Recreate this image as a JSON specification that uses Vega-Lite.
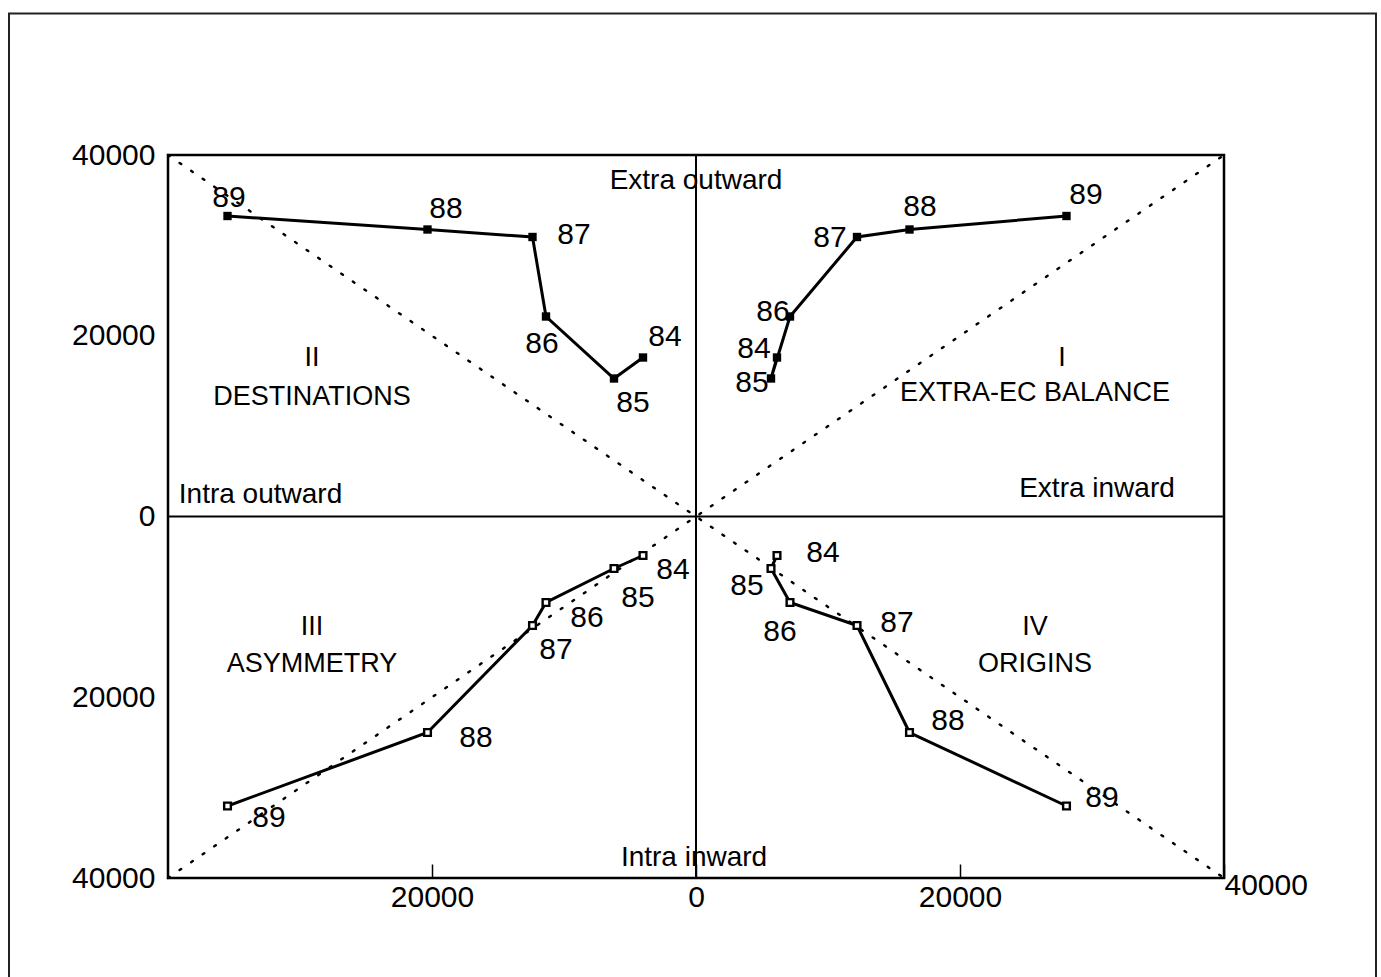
{
  "$schema": "https://vega.github.io/schema/vega-lite/v6.json",
  "width": 1056,
  "height": 723,
  "autosize": {"type": "none"},
  "padding": {"left": 168, "top": 155, "right": 157, "bottom": 99},
  "background": "white",
  "config": {
    "view": {"stroke": "black", "strokeWidth": 2.5},
    "font": "Liberation Sans",
    "text": {"font": "Liberation Sans", "color": "black"}
  },
  "datasets": {
    "points": [
      {"quadrant": "I", "year": "84", "x": 6136, "y": 17593},
      {"quadrant": "I", "year": "85", "x": 5682, "y": 15270},
      {"quadrant": "I", "year": "86", "x": 7121, "y": 22130},
      {"quadrant": "I", "year": "87", "x": 12197, "y": 30927},
      {"quadrant": "I", "year": "88", "x": 16174, "y": 31757},
      {"quadrant": "I", "year": "89", "x": 28068, "y": 33250},
      {"quadrant": "II", "year": "84", "x": -4015, "y": 17593},
      {"quadrant": "II", "year": "85", "x": -6212, "y": 15270},
      {"quadrant": "II", "year": "86", "x": -11364, "y": 22130},
      {"quadrant": "II", "year": "87", "x": -12386, "y": 30927},
      {"quadrant": "II", "year": "88", "x": -20341, "y": 31757},
      {"quadrant": "II", "year": "89", "x": -35492, "y": 33250},
      {"quadrant": "III", "year": "84", "x": -4015, "y": -4315},
      {"quadrant": "III", "year": "85", "x": -6212, "y": -5754},
      {"quadrant": "III", "year": "86", "x": -11364, "y": -9516},
      {"quadrant": "III", "year": "87", "x": -12386, "y": -12061},
      {"quadrant": "III", "year": "88", "x": -20341, "y": -23900},
      {"quadrant": "III", "year": "89", "x": -35492, "y": -32033},
      {"quadrant": "IV", "year": "84", "x": 6136, "y": -4315},
      {"quadrant": "IV", "year": "85", "x": 5682, "y": -5754},
      {"quadrant": "IV", "year": "86", "x": 7121, "y": -9516},
      {"quadrant": "IV", "year": "87", "x": 12197, "y": -12061},
      {"quadrant": "IV", "year": "88", "x": 16174, "y": -23900},
      {"quadrant": "IV", "year": "89", "x": 28068, "y": -32033}
    ],
    "yearLabels": [
      {"quadrant": "I", "year": "84", "x": 4394, "y": 18479},
      {"quadrant": "I", "year": "85", "x": 4242, "y": 14827},
      {"quadrant": "I", "year": "86", "x": 5833, "y": 22573},
      {"quadrant": "I", "year": "87", "x": 10152, "y": 30871},
      {"quadrant": "I", "year": "88", "x": 16970, "y": 34191},
      {"quadrant": "I", "year": "89", "x": 29545, "y": 35519},
      {"quadrant": "II", "year": "84", "x": -2348, "y": 19917},
      {"quadrant": "II", "year": "85", "x": -4773, "y": 12614},
      {"quadrant": "II", "year": "86", "x": -11667, "y": 19142},
      {"quadrant": "II", "year": "87", "x": -9242, "y": 31203},
      {"quadrant": "II", "year": "88", "x": -18939, "y": 34080},
      {"quadrant": "II", "year": "89", "x": -35379, "y": 35297},
      {"quadrant": "III", "year": "84", "x": -1742, "y": -5975},
      {"quadrant": "III", "year": "85", "x": -4394, "y": -8963},
      {"quadrant": "III", "year": "86", "x": -8258, "y": -11176},
      {"quadrant": "III", "year": "87", "x": -10606, "y": -14827},
      {"quadrant": "III", "year": "88", "x": -16667, "y": -24564},
      {"quadrant": "III", "year": "89", "x": -32348, "y": -33416},
      {"quadrant": "IV", "year": "84", "x": 9621, "y": -4094},
      {"quadrant": "IV", "year": "85", "x": 3864, "y": -7635},
      {"quadrant": "IV", "year": "86", "x": 6364, "y": -12725},
      {"quadrant": "IV", "year": "87", "x": 15227, "y": -11729},
      {"quadrant": "IV", "year": "88", "x": 19091, "y": -22573},
      {"quadrant": "IV", "year": "89", "x": 30758, "y": -31093}
    ],
    "axisNotes": [
      {"text": "Extra outward", "x": 0, "y": 37178},
      {"text": "Intra outward", "x": -32992, "y": 2434},
      {"text": "Extra inward", "x": 30379, "y": 3098},
      {"text": "Intra inward", "x": -150, "y": -37732}
    ],
    "quadrantNames": [
      {"text": "II", "x": -29091, "y": 17593},
      {"text": "DESTINATIONS", "x": -29091, "y": 13278},
      {"text": "I", "x": 27727, "y": 17593},
      {"text": "EXTRA-EC BALANCE", "x": 25682, "y": 13610},
      {"text": "III", "x": -29091, "y": -12282},
      {"text": "ASYMMETRY", "x": -29091, "y": -16266},
      {"text": "IV", "x": 25682, "y": -12282},
      {"text": "ORIGINS", "x": 25682, "y": -16266}
    ],
    "diagonals": [
      {"diag": "falling", "x": -40000, "y": 40000},
      {"diag": "falling", "x": 40000, "y": -40000},
      {"diag": "rising", "x": -40000, "y": -40000},
      {"diag": "rising", "x": 40000, "y": 40000}
    ]
  },
  "layer": [
    {
      "data": {"values": [{}]},
      "mark": {"type": "rect", "fillOpacity": 0, "stroke": "#222222", "strokeWidth": 2, "clip": false},
      "encoding": {
        "x": {"datum": -52045, "type": "quantitative", "scale": {"domain": [-40000, 40000], "nice": false, "zero": false}},
        "x2": {"datum": 51515},
        "y": {"datum": 55657, "type": "quantitative", "scale": {"domain": [-40000, 40000], "nice": false, "zero": false}},
        "y2": {"datum": -53500}
      }
    },
    {
      "data": {"name": "diagonals"},
      "mark": {"type": "line", "color": "black", "strokeWidth": 2.4, "strokeDash": [2, 12], "strokeCap": "round"},
      "encoding": {
        "x": {"field": "x", "type": "quantitative", "scale": {"domain": [-40000, 40000], "nice": false, "zero": false},
          "axis": {
            "values": [-20000, 0, 20000, 40000],
            "labelExpr": "format(abs(datum.value), 'd')",
            "title": null,
            "grid": false,
            "domain": false,
            "ticks": true,
            "tickSize": -14,
            "tickWidth": 1.5,
            "tickColor": "black",
            "labelFont": "Liberation Sans",
            "labelFontSize": 30,
            "labelColor": "black",
            "labelBaseline": "top",
            "labelAlign": {"condition": {"test": "datum.value == 40000", "value": "left"}, "value": "center"},
            "labelPadding": {"condition": {"test": "datum.value == 40000", "value": 6}, "value": 18},
            "labelFlush": false,
            "labelOverlap": false
          }},
        "y": {"field": "y", "type": "quantitative", "scale": {"domain": [-40000, 40000], "nice": false, "zero": false},
          "axis": {
            "values": [-40000, -20000, 0, 20000, 40000],
            "labelExpr": "format(abs(datum.value), 'd')",
            "title": null,
            "grid": false,
            "domain": false,
            "ticks": false,
            "labelFont": "Liberation Sans",
            "labelFontSize": 30,
            "labelColor": "black",
            "labelPadding": 13,
            "labelFlush": false,
            "labelOverlap": false
          }},
        "detail": {"field": "diag"}
      }
    },
    {
      "data": {"values": [{}]},
      "mark": {"type": "rule", "color": "black", "strokeWidth": 2},
      "encoding": {"x": {"datum": 0, "type": "quantitative", "scale": {"domain": [-40000, 40000], "nice": false, "zero": false}}}
    },
    {
      "data": {"values": [{}]},
      "mark": {"type": "rule", "color": "black", "strokeWidth": 2},
      "encoding": {"y": {"datum": 0, "type": "quantitative", "scale": {"domain": [-40000, 40000], "nice": false, "zero": false}}}
    },
    {
      "data": {"name": "points"},
      "mark": {"type": "line", "color": "black", "strokeWidth": 3},
      "encoding": {
        "x": {"field": "x", "type": "quantitative", "scale": {"domain": [-40000, 40000], "nice": false, "zero": false}},
        "y": {"field": "y", "type": "quantitative", "scale": {"domain": [-40000, 40000], "nice": false, "zero": false}},
        "detail": {"field": "quadrant"},
        "order": {"field": "year", "type": "ordinal"}
      }
    },
    {
      "data": {"name": "points"},
      "transform": [{"filter": "datum.quadrant == 'I' || datum.quadrant == 'II'"}],
      "mark": {"type": "square", "color": "black", "filled": true, "size": 70, "opacity": 1},
      "encoding": {
        "x": {"field": "x", "type": "quantitative", "scale": {"domain": [-40000, 40000], "nice": false, "zero": false}},
        "y": {"field": "y", "type": "quantitative", "scale": {"domain": [-40000, 40000], "nice": false, "zero": false}}
      }
    },
    {
      "data": {"name": "points"},
      "transform": [{"filter": "datum.quadrant == 'III' || datum.quadrant == 'IV'"}],
      "mark": {"type": "square", "fill": "white", "stroke": "black", "strokeWidth": 2.4, "size": 45, "opacity": 1},
      "encoding": {
        "x": {"field": "x", "type": "quantitative", "scale": {"domain": [-40000, 40000], "nice": false, "zero": false}},
        "y": {"field": "y", "type": "quantitative", "scale": {"domain": [-40000, 40000], "nice": false, "zero": false}}
      }
    },
    {
      "data": {"name": "yearLabels"},
      "mark": {"type": "text", "fontSize": 30, "align": "center", "baseline": "middle", "color": "black", "font": "Liberation Sans"},
      "encoding": {
        "x": {"field": "x", "type": "quantitative", "scale": {"domain": [-40000, 40000], "nice": false, "zero": false}},
        "y": {"field": "y", "type": "quantitative", "scale": {"domain": [-40000, 40000], "nice": false, "zero": false}},
        "text": {"field": "year"}
      }
    },
    {
      "data": {"name": "axisNotes"},
      "mark": {"type": "text", "fontSize": 28, "align": "center", "baseline": "middle", "color": "black", "font": "Liberation Sans"},
      "encoding": {
        "x": {"field": "x", "type": "quantitative", "scale": {"domain": [-40000, 40000], "nice": false, "zero": false}},
        "y": {"field": "y", "type": "quantitative", "scale": {"domain": [-40000, 40000], "nice": false, "zero": false}},
        "text": {"field": "text"}
      }
    },
    {
      "data": {"name": "quadrantNames"},
      "mark": {"type": "text", "fontSize": 27, "align": "center", "baseline": "middle", "color": "black", "font": "Liberation Sans"},
      "encoding": {
        "x": {"field": "x", "type": "quantitative", "scale": {"domain": [-40000, 40000], "nice": false, "zero": false}},
        "y": {"field": "y", "type": "quantitative", "scale": {"domain": [-40000, 40000], "nice": false, "zero": false}},
        "text": {"field": "text"}
      }
    }
  ]
}
